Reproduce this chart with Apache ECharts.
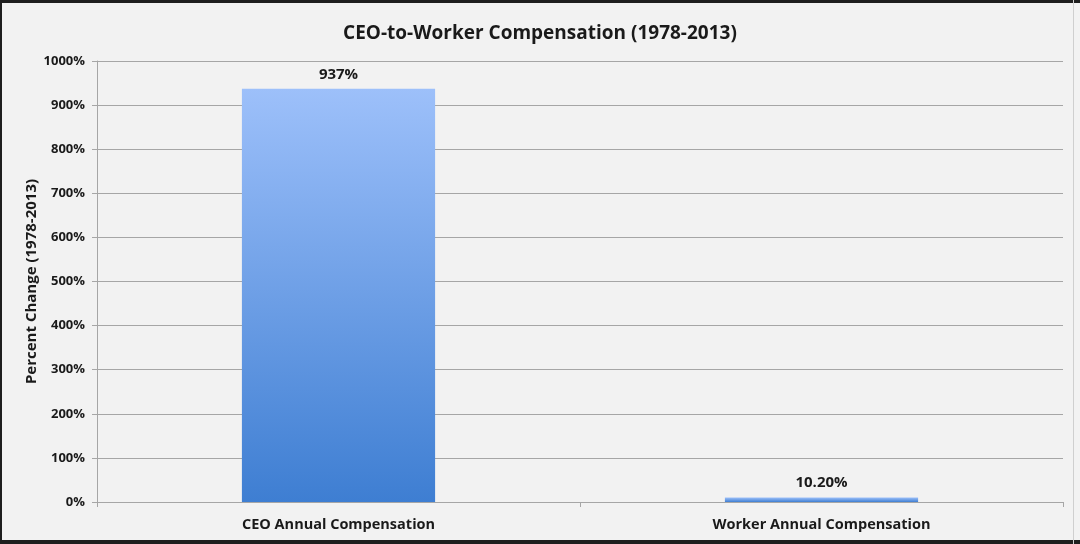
<!DOCTYPE html>
<html>
<head>
<meta charset="utf-8">
<script src="https://cdn.jsdelivr.net/npm/echarts@6/dist/echarts.min.js"></script>
<style>
html,body{margin:0;padding:0;background:#f2f2f2;}
#wrap{position:relative;width:1080px;height:544px;overflow:hidden;}
#chart{position:absolute;left:0;top:0;width:1080px;height:544px;}
.b{position:absolute;background:#1e1e1e;}
</style>
</head>
<body>
<div id="wrap">
<div id="chart"></div>
<div class="b" style="left:0;top:0;width:1080px;height:3px;"></div>
<div class="b" style="left:0;top:0;width:2px;height:544px;"></div>
<div class="b" style="left:0;top:540px;width:1080px;height:4px;"></div>
<div class="b" style="left:1073px;top:0;width:1px;height:544px;background:#cfcfcf;"></div>
</div>
<script>
const categories = ['CEO Annual Compensation', 'Worker Annual Compensation'];
const values = [937, 10.2];
const valueLabels = ['937%', '10.20%'];
const yTicks = [0, 100, 200, 300, 400, 500, 600, 700, 800, 900, 1000];

const chart = echarts.init(document.getElementById('chart'), null, {renderer: 'canvas'});
const font = '"Open Sans", "Noto Sans", sans-serif';
chart.setOption({
  backgroundColor: '#f2f2f2',
  animation: false,
  title: {
    text: 'CEO-to-Worker Compensation (1978-2013)',
    left: 'center',
    top: 19,
    textStyle: {fontFamily: font, fontWeight: 'bold', fontSize: 19, color: '#1a1a1a'}
  },
  grid: {left: 97, right: 17, top: 61, bottom: 42},
  xAxis: {
    type: 'category',
    data: categories,
    axisLine: {show: true, lineStyle: {color: '#a6a6a6', width: 1}},
    axisTick: {show: true, length: 5, lineStyle: {color: '#a6a6a6'}},
    axisLabel: {fontFamily: font, fontWeight: 'bold', fontSize: 14.5, color: '#1a1a1a', margin: 15}
  },
  yAxis: {
    type: 'value',
    min: yTicks[0],
    max: yTicks[yTicks.length - 1],
    interval: 100,
    name: 'Percent Change (1978-2013)',
    nameLocation: 'middle',
    nameGap: 58,
    nameMoveOverlap: false,
    nameTextStyle: {fontFamily: font, fontWeight: 'bold', fontSize: 15, color: '#1a1a1a'},
    axisLine: {show: true, lineStyle: {color: '#a6a6a6', width: 1}},
    axisTick: {show: true, length: 5, lineStyle: {color: '#a6a6a6'}},
    splitLine: {show: true, lineStyle: {color: '#a6a6a6', width: 1}},
    axisLabel: {fontFamily: font, fontWeight: 'bold', fontSize: 13, color: '#1a1a1a', margin: 12,
      formatter: v => v + '%'}
  },
  series: [{
    type: 'bar',
    data: values,
    barWidth: '40%',
    itemStyle: {
      color: new echarts.graphic.LinearGradient(0, 0, 0, 1, [
        {offset: 0, color: '#9dc0fa'},
        {offset: 1, color: '#3e7ed2'}
      ])
    },
    label: {
      show: true,
      position: 'top',
      distance: 7,
      fontFamily: font, fontWeight: 'bold', fontSize: 15, color: '#1a1a1a',
      formatter: p => valueLabels[p.dataIndex]
    }
  }]
});
</script>
</body>
</html>
